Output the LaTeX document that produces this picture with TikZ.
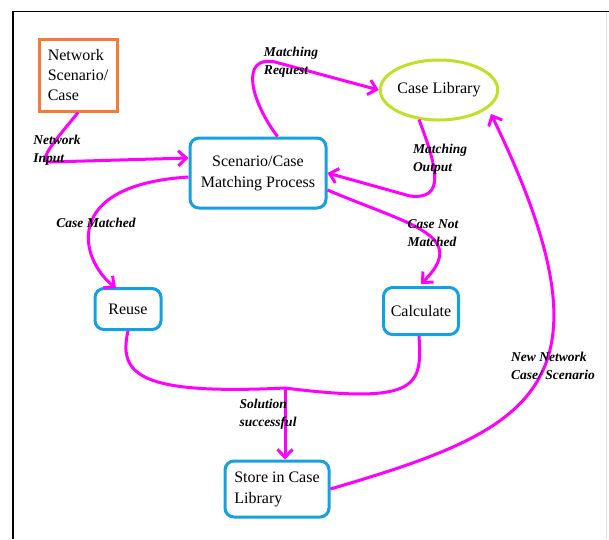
\documentclass[tikz,border=0pt]{standalone}
\usepackage{fontspec}
\setmainfont{Liberation Serif}
\usepackage{tikz}
\usetikzlibrary{positioning,shapes,arrows.meta}

\definecolor{flowpink}{RGB}{255,0,255}
\definecolor{procblue}{RGB}{20,160,225}
\definecolor{srcorange}{RGB}{240,125,50}
\definecolor{libgreen}{RGB}{190,225,40}

\begin{document}
\begin{tikzpicture}[x=1pt, y=-1pt]
				\tikzstyle{process} = [rectangle, rounded corners=9pt, draw=procblue, line width=3pt, align=left, font=\fontsize{16}{21}\selectfont, inner sep=6pt];
				\tikzstyle{source} = [rectangle, draw=srcorange, line width=3pt, align=left, font=\fontsize{16}{20}\selectfont, minimum width=78pt, minimum height=72pt];
				\tikzstyle{store} = [ellipse, draw=libgreen, line width=3pt, minimum width=113pt, minimum height=60pt, inner sep=0pt, font=\fontsize{16}{20}\selectfont];
				\tikzstyle{flow} = [draw=flowpink, line width=3pt, -{Straight Barb[length=8pt,width=15pt,line width=3pt]}];
				\tikzstyle{note} = [align=left, font=\fontsize{13.5}{18}\bfseries\itshape\selectfont, inner sep=0pt];

				\useasboundingbox (0,0) rectangle (609,539);
				\draw[black, line width=1.8pt] (13,539) -- (13,11.5) -- (609,11.5);
				\draw[black!12, line width=1pt] (606,11.5) -- (606,539);

				\node[source](network) at (78,75){Network\\Scenario/\\Case};
				\node[store](library) at (439,90){Case Library};
				\node[process, minimum width=136pt, minimum height=70pt, align=center](matching) at (258,173){Scenario/Case\\Matching Process};
				\node[process, minimum width=66pt, minimum height=41pt](reuse) at (128,309){Reuse};
				\node[process, minimum width=75pt, minimum height=47pt](calculate) at (421,311){Calculate};
				\node[process, minimum width=104pt, minimum height=56pt](storelib) at (277,489){Store in Case\\Library};
				\coordinate (join) at (285,388);

				% flows between the steps
				\draw[flow] (network.south) .. controls (60,135) and (35,162) .. (50,162) -- (matching.west |- 0,158);
				\draw[flow] (matching.north east) ++(-50,0) .. controls (250,100) and (240,55) .. (275,62) -- (library.west);
				\draw[flow] (library.south) ++(-20,-2) .. controls (438,170) and (445,200) .. (410,196) -- (matching.east |- 0,173);
				\draw[flow] (matching.east |- 0,190) .. controls (410,225) and (470,235) .. (421,284);
				\draw[flow] (matching.west |- 0,177) .. controls (60,185) and (80,260) .. (116,288);
				\draw[draw=flowpink, line width=3pt] (reuse.south) .. controls (118,375) and (140,395) .. (join);
				\draw[draw=flowpink, line width=3pt] (calculate.south) ++(-2,0) .. controls (422,385) and (420,405) .. (join);
				\draw[flow] (join) -- (storelib.north -| join);
				\draw[flow] (storelib.east) .. controls (530,430) and (625,390) .. (491,114);

				% labels on the flows
				\node[note](lnetwork) at (57,150){Network\\Input};
				\node[note](lrequest) at (291,62){Matching\\Request};
				\node[note](loutput) at (440,159){Matching\\Output};
				\node[note](lmatched) at (96,223){Case Matched};
				\node[note](lnotmatched) at (433,233){Case Not\\Matched};
				\node[note](lsolution) at (268,414){Solution\\successful};
				\node[note](lnew) at (553,366){New Network\\Case/ Scenario};
			\end{tikzpicture}
\end{document}
